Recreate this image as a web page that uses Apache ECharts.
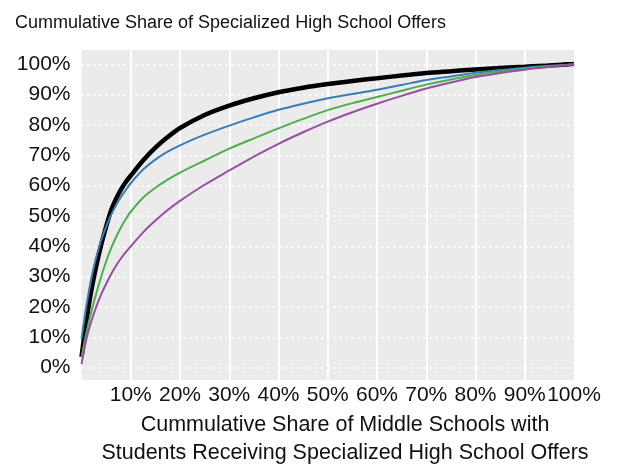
<!DOCTYPE html>
<html>
<head>
<meta charset="utf-8">
<script src="https://cdn.jsdelivr.net/npm/echarts@6/dist/echarts.min.js"></script>
<style>
html,body{margin:0;padding:0;background:#fff;}
#chart{width:621px;height:468px;}
</style>
</head>
<body>
<div id="chart"></div>
<script>
const titleText = 'Cummulative Share of Specialized High School Offers';
const xTitleLines = ['Cummulative Share of Middle Schools with', 'Students Receiving Specialized High School Offers'];
const xs = [0,1,2,3,4,5,6,7,8,9,10,12.5,15,17.5,20,25,30,35,40,45,50,55,60,65,70,75,80,85,90,95,100];
const blackVals = [3.5,15.5,25.5,33.5,40.5,46.5,51.8,55.6,58.7,61.2,63.3,68.3,72.5,76,79,83.3,86.4,88.8,90.8,92.3,93.5,94.5,95.4,96.3,97.1,97.7,98.3,98.8,99.2,99.6,100.2];
const blueVals = [9.5,20.5,29.5,36.5,42,46.5,50.3,53.5,56.3,58.6,60.8,65.3,68.6,71.2,73.3,76.8,79.8,82.5,85,87,88.8,90.2,91.6,93.2,94.8,96,97.2,98.1,98.9,99.5,100];
const greenVals = [3.5,11.5,18.5,24.5,30,35,39.3,43,46.2,49,51.4,56,59.3,62,64.3,68.3,72.2,75.6,78.9,82,84.9,87.2,89.2,91.3,93.3,95,96.5,97.6,98.5,99.3,100];
const purpleVals = [1.2,9.5,15.3,20.1,24.2,27.6,30.8,33.6,36,38.1,40,44.6,48.5,52,55,60.3,65,69.6,73.8,77.6,81.1,84.2,87,89.6,92,94,95.8,97.1,98.2,99.1,100];

const pairs = vals => xs.map((x, i) => [x, vals[i]]);
const FONT = 'Liberation Sans';

const chart = echarts.init(document.getElementById('chart'), null, {renderer: 'canvas'});
chart.setOption({
  animation: false,
  backgroundColor: '#ffffff',
  title: {
    text: titleText, left: 10, top: 9,
    textStyle: {fontFamily: FONT, fontSize: 18, fontWeight: 'normal', color: '#111'}
  },
  grid: [
    {left: 81.5, right: 47, top: 50, bottom: 88, show: true, backgroundColor: '#ebebeb', borderWidth: 0},
    {left: 81.5, right: 47, top: 64.3, bottom: 100.3}
  ],
  xAxis: [
    {
      gridIndex: 0, type: 'value', min: 0, max: 100, interval: 10,
      axisLine: {show: false}, axisTick: {show: false},
      axisLabel: {
        margin: 5, fontFamily: FONT, fontSize: 21, color: '#111',
        showMinLabel: false,
        formatter: v => v + '%'
      },
      splitLine: {show: true, showMinLine: false, showMaxLine: false, lineStyle: {color: '#ffffff', width: 2, type: 'solid'}}
    },
    {
      gridIndex: 1, type: 'value', min: 0, max: 100, interval: 10, show: false,
      splitLine: {show: false}
    }
  ],
  yAxis: [
    {gridIndex: 0, type: 'value', min: 0, max: 100, show: false, splitLine: {show: false}},
    {
      gridIndex: 1, type: 'value', min: 0, max: 100, interval: 10,
      axisLine: {show: false}, axisTick: {show: false},
      axisLabel: {margin: 11, fontFamily: FONT, fontSize: 21, color: '#111', formatter: v => v + '%'},
      splitLine: {show: true, lineStyle: {color: '#ffffff', width: 2, type: [2, 4]}}
    }
  ],
  graphic: [
    {type: 'text', x: 345, y: 414, style: {text: xTitleLines[0], font: '21.5px "' + FONT + '"', fill: '#111', textAlign: 'center', textVerticalAlign: 'top'}},
    {type: 'text', x: 345, y: 442, style: {text: xTitleLines[1], font: '21.5px "' + FONT + '"', fill: '#111', textAlign: 'center', textVerticalAlign: 'top'}}
  ],
  series: [
    {name: 'Black', type: 'line', xAxisIndex: 1, yAxisIndex: 1, data: pairs(blackVals), showSymbol: false, smooth: 0.3, lineStyle: {color: '#000000', width: 4.5}, z: 2},
    {name: 'Blue', type: 'line', xAxisIndex: 1, yAxisIndex: 1, data: pairs(blueVals), showSymbol: false, smooth: 0.3, lineStyle: {color: '#377eb8', width: 2}, z: 3},
    {name: 'Green', type: 'line', xAxisIndex: 1, yAxisIndex: 1, data: pairs(greenVals), showSymbol: false, smooth: 0.3, lineStyle: {color: '#4daf4a', width: 2}, z: 4},
    {name: 'Purple', type: 'line', xAxisIndex: 1, yAxisIndex: 1, data: pairs(purpleVals), showSymbol: false, smooth: 0.3, lineStyle: {color: '#984ea3', width: 2}, z: 5}
  ]
});
</script>
</body>
</html>
